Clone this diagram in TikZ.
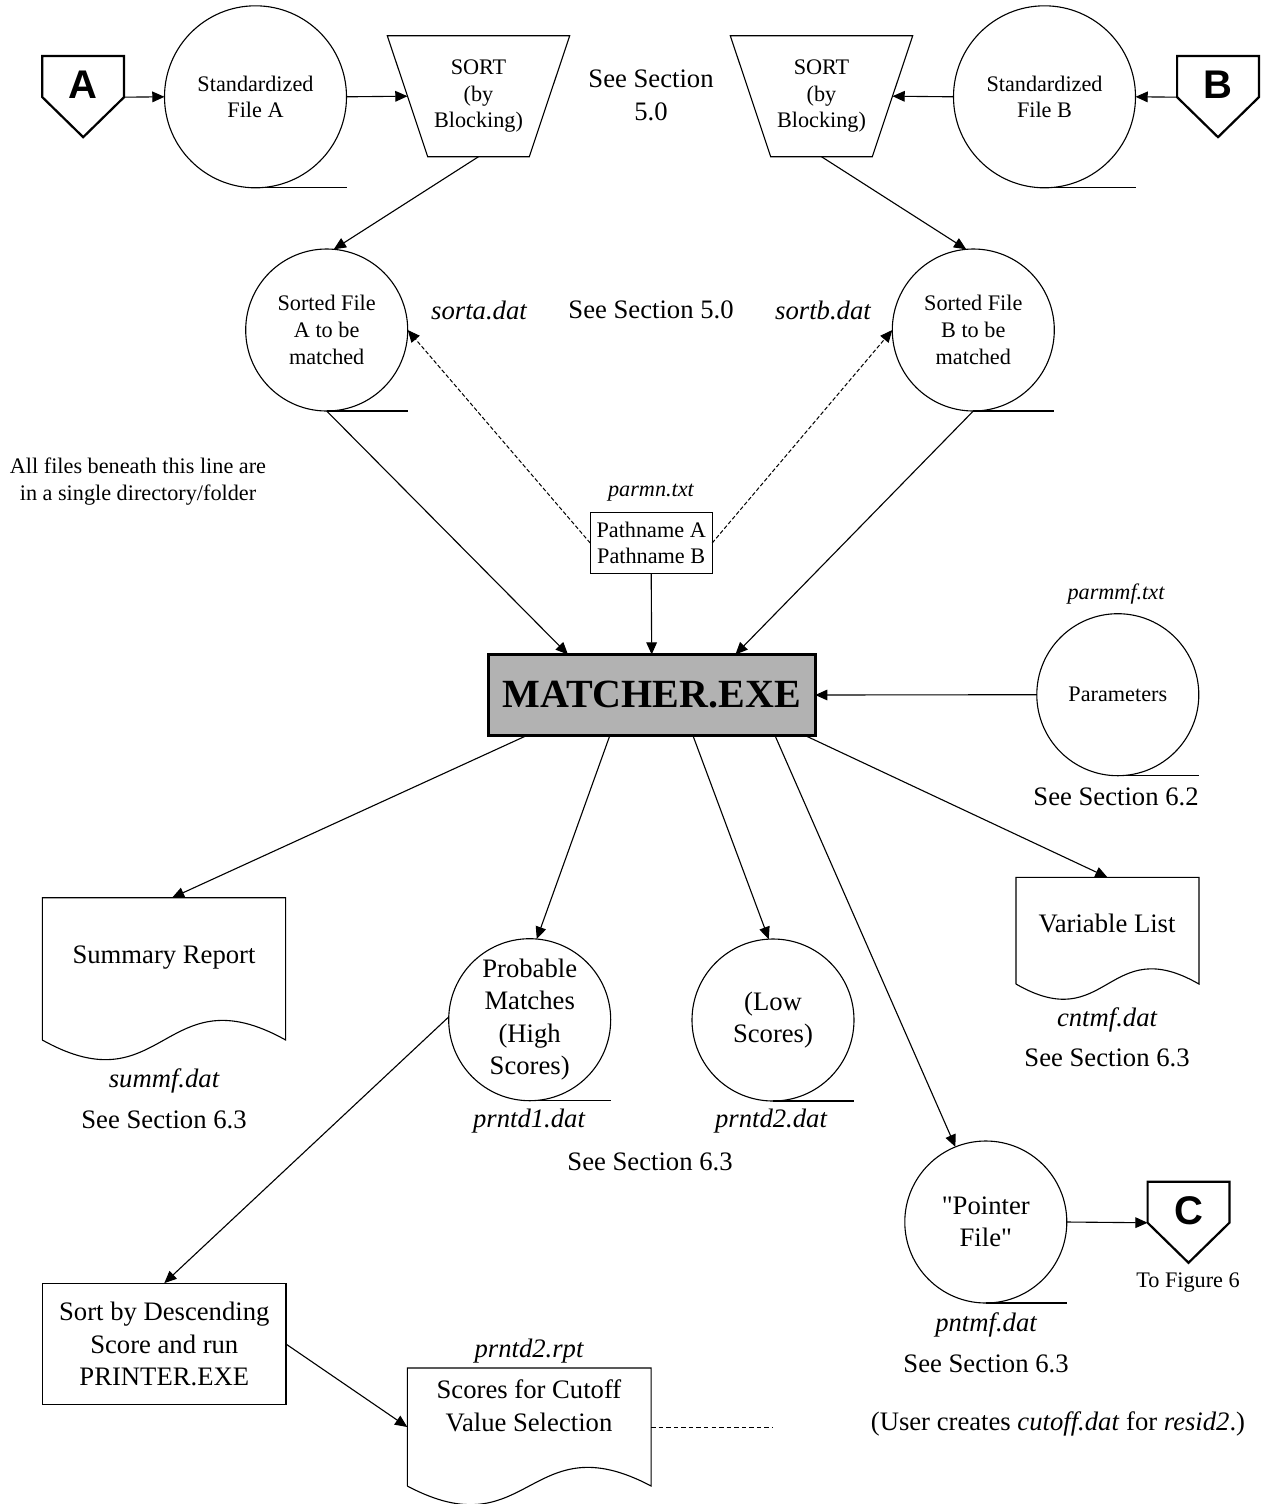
\documentclass[tikz,border=0pt]{standalone}
\usepackage{fontspec}
\setmainfont{Liberation Serif}
\setsansfont{Liberation Sans}
\newfontfamily\qfont{Liberation Serif}
\usetikzlibrary{arrows.meta,calc}
\definecolor{mgray}{RGB}{178,178,178}
\newcommand\tapeline[1]{\draw[ln] (#1.south) -- (#1.south -| #1.east);}
\newcommand\docwave[3]{%
  \draw[ln] (#1.south west) -- (#1.north west) -- (#1.north east) -- (#1.south east)
    .. controls ($(#1.south east)+(-0.5*#2,-3.4*#3)$) and ($(#1.south west)+(0.5*#2,3.4*#3)$) .. (#1.south west);}
\newcommand\pentagon[1]{%
  \draw[thk] (#1.north west) -- (#1.north east) -- (#1.south east) -- ($(#1.south)+(0,40)$) -- (#1.south west) -- cycle;}
\newcommand\trap[1]{%
  \draw[ln] ($(#1.north west)+(-20.2,0)$) -- ($(#1.north east)+(20.2,0)$) -- ($(#1.south east)+(-20.2,0)$) -- ($(#1.south west)+(20.2,0)$) -- cycle;}
\newcommand\dq{{\qfont\symbol{"22}}}
\begin{document}
\begin{tikzpicture}[x=0.45pt,y=-0.45pt,
  every node/.style={inner sep=0pt,outer sep=0pt},
  ln/.style={line width=0.5pt},
  thk/.style={line width=1pt},
  arr/.style={line width=0.5pt,-{Triangle[length=5.5pt,width=4.8pt]}},
  darr/.style={line width=0.45pt,dash pattern=on 1.8pt off 1pt,-{Triangle[length=5.5pt,width=4.8pt]}},
  dln/.style={line width=0.45pt,dash pattern=on 2pt off 1.4pt},
  small/.style={font=\fontsize{10}{12}\selectfont,align=center},
  smalli/.style={font=\fontsize{10}{12}\selectfont\itshape},
  big/.style={font=\fontsize{12}{14.6}\selectfont,align=center},
  bigi/.style={font=\fontsize{12}{14.6}\selectfont\itshape},
  letter/.style={font=\fontsize{18}{18}\selectfont\sffamily\bfseries},
  bigc/.style={circle,draw,line width=0.5pt,minimum size=81.9pt},
  medc/.style={circle,draw,line width=0.5pt,minimum size=72.9pt},
  pentbox/.style={rectangle,minimum width=36.8pt,minimum height=18.5pt},
  sortbox/.style={rectangle,minimum width=63.9pt,minimum height=54.45pt,small},
]
\useasboundingbox (0,0) rectangle (1265,1504);
\fill[white] (0,0) rectangle (1265,1504);

% ---------- top row ----------
\node[pentbox] (pA) at (83.2,76.6) {};
\pentagon{pA}
\node[letter] (pAt) at (83.2,85) {A};
\node[bigc,small] (cA) at (255.5,96.8) {Standardized\\File A};
\tapeline{cA}
\node[sortbox] (sA) at (478.5,96.2) {SORT\\(by\\Blocking)};
\trap{sA}
\draw[arr] (pA.south east) -- (cA.west);
\draw[arr] (cA.east) -- (sA.west);

\node[big] (ss1) at (651,95.5) {See Section\\5.0};

\node[pentbox] (pB) at (1218,76.6) {};
\pentagon{pB}
\node[letter] (pBt) at (1218,85) {B};
\node[bigc,small] (cB) at (1044.5,96.8) {Standardized\\File B};
\tapeline{cB}
\node[sortbox] (sB) at (821.5,96.2) {SORT\\(by\\Blocking)};
\trap{sB}
\draw[arr] (pB.south west) -- (cB.east);
\draw[arr] (cB.west) -- (sB.east);

% ---------- sorted files ----------
\node[medc,small] (sfA) at (326.7,330) {Sorted File\\A to be\\matched};
\tapeline{sfA}
\node[medc,small] (sfB) at (973.3,330) {Sorted File\\B to be\\matched};
\tapeline{sfB}
\draw[arr] (sA.south) -- (sfA.85);
\draw[arr] (sB.south) -- (sfB.95);

\node[bigi] (sortaT) at (479,310) {sorta.dat};
\node[big] (ss2) at (651,310) {See Section 5.0};
\node[bigi] (sortbT) at (823,310) {sortb.dat};

\node[small] (allf) at (138,481.5) {All files beneath this line are\\in a single directory/folder};

\node[smalli] (parmnT) at (651,493) {parmn.txt};
\node[draw,ln,small,minimum width=54.9pt,minimum height=27.45pt] (pbox) at (651.2,543) {Pathname A\\Pathname B};
\draw[darr] (pbox.west) -- (sfA.east);
\draw[darr] (pbox.east) -- (sfB.west);

% ---------- matcher ----------
\node[draw,line width=1.3pt,fill=mgray,minimum width=147.15pt,minimum height=36.45pt,
      font=\fontsize{18}{20}\selectfont\bfseries] (m) at (651.7,695) {MATCHER.EXE};
\draw[arr] (sfA.south) -- ($(m.north west)!0.244!(m.north east)$);
\draw[arr] (pbox.south) -- (m.north);
\draw[arr] (sfB.south) -- ($(m.north west)!0.756!(m.north east)$);

\node[smalli] (parmmfT) at (1116,594) {parmmf.txt};
\node[medc,small] (par) at (1117.8,694.7) {Parameters};
\tapeline{par}
\node[big] (ss62) at (1116,797) {See Section 6.2};
\draw[arr] (par.west) -- (m.east);

% ---------- outputs ----------
\node[rectangle,minimum width=109.5pt,minimum height=64pt] (sum) at (164,968.9) {};
\docwave{sum}{243.4}{20}
\node[big] (sumT) at (164,958) {Summary Report};
\node[bigi] (summfT) at (164,1081) {summf.dat};
\node[big] (ss63a) at (164,1120) {See Section 6.3};

\node[medc,big] (prob) at (529.7,1019.7) {Probable\\Matches\\(High\\Scores)};
\tapeline{prob}
\node[medc,big] (low) at (773,1020) {(Low\\Scores)};
\tapeline{low}
\node[bigi] (p1T) at (529,1121) {prntd1.dat};
\node[bigi] (p2T) at (771,1121) {prntd2.dat};
\node[big] (ss63b) at (650,1162) {See Section 6.3};

\node[rectangle,minimum width=82.35pt,minimum height=48pt] (var) at (1107.5,930.7) {};
\docwave{var}{183}{15.5}
\node[big] (varT) at (1107,923) {Variable List};
\node[bigi] (cntT) at (1107,1020) {cntmf.dat};
\node[big] (ss63c) at (1107,1058) {See Section 6.3};

\node[medc,big] (ptr) at (985.8,1222) {\dq Pointer\\File\dq};
\tapeline{ptr}
\node[bigi] (pntT) at (986,1325) {pntmf.dat};
\node[big] (ss63d) at (986,1364) {See Section 6.3};

\node[pentbox] (pC) at (1188.5,1202.2) {};
\pentagon{pC}
\node[letter] (pCt) at (1188.5,1211) {C};
\node[small] (toFig) at (1188,1283) {To Figure 6};
\draw[arr] (ptr.east) -- (pC.south west);

\draw[arr] ($(m.south west)!0.118!(m.south east)$) -- ($(sum.north)+(8,0)$);
\draw[arr] ($(m.south west)!0.372!(m.south east)$) -- (prob.85);
\draw[arr] ($(m.south west)!0.626!(m.south east)$) -- (low.93);
\draw[arr] ($(m.south west)!0.877!(m.south east)$) -- (ptr.112);
\draw[arr] ($(m.south west)!0.969!(m.south east)$) -- (var.north);

% ---------- bottom ----------
\node[draw,ln,big,minimum width=109.5pt,minimum height=54.8pt] (srt) at (164.3,1344) {Sort by Descending\\Score and run\\PRINTER.EXE};
\draw[arr] (prob.178) -- (srt.north);

\node[bigi] (rptT) at (529,1351) {prntd2.rpt};
\node[rectangle,minimum width=109.7pt,minimum height=53.1pt] (scores) at (529.2,1427) {};
\docwave{scores}{243.7}{19}
\node[big] (scoresT) at (529,1406) {Scores for Cutoff\\Value Selection};
\draw[arr] (srt.east) -- (scores.west);
\coordinate (dend) at (773,1427);
\draw[dln] (scores.east) -- (dend);

\node[big] (userT) at (1058,1424) {(User creates \textit{cutoff.dat} for \textit{resid2}.)};
\end{tikzpicture}
\end{document}
